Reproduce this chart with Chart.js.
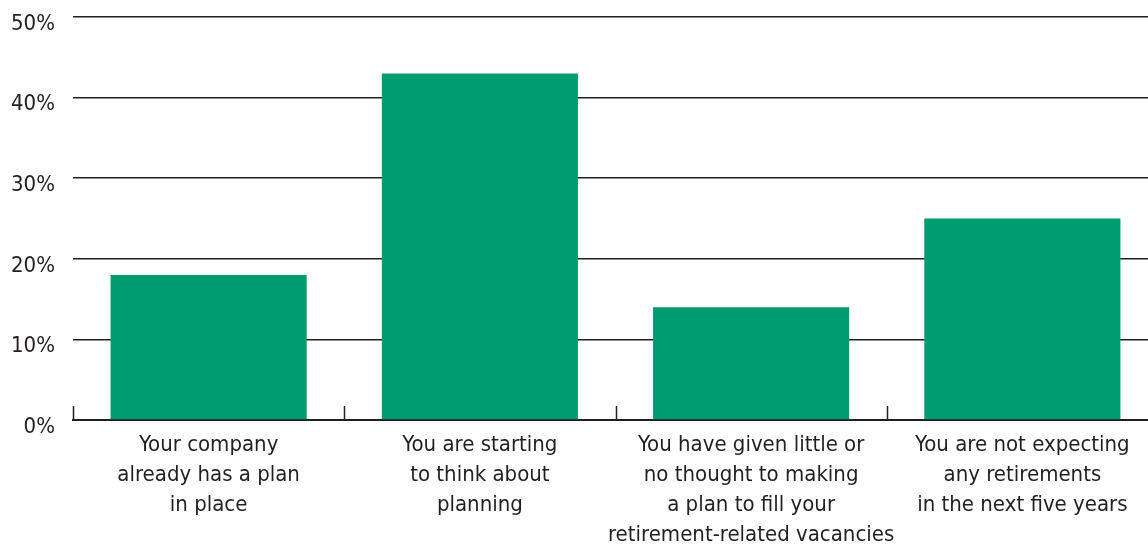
<!DOCTYPE html>
<html>
<head>
<meta charset="utf-8">
<script src="https://cdn.jsdelivr.net/npm/chart.js@4/dist/chart.umd.min.js"></script>
<style>
  html, body { margin: 0; padding: 0; background: #fff; overflow: hidden; }
  #wrap { width: 1158px; height: 548px; }
</style>
</head>
<body>
<div id="wrap"><canvas id="grafica"></canvas></div>
<script>
const categorias = [
    ["Your company", "already has a plan", "in place"],
    ["You are starting", "to think about", "planning"],
    ["You have given little or", "no thought to making", "a plan to fill your", "retirement-related vacancies"],
    ["You are not expecting", "any retirements", "in the next five years"]
];
const valores = [18, 43, 14, 25];
const ticksY = [0, 10, 20, 30, 40, 50];

const fuente = "'DejaVu Sans Condensed', 'Liberation Sans', sans-serif";
const colorTexto = "#231f20";

// short marks between categories, rising from the baseline
const marcasCategoria = {
    id: "marcasCategoria",
    afterDraw(chart) {
        const x = chart.scales.x;
        const ctx = chart.ctx;
        const base = chart.chartArea.bottom;
        ctx.save();
        ctx.strokeStyle = "#231f20";
        ctx.lineWidth = 1.5;
        for (let i = 0; i <= categorias.length; i++) {
            const px = Math.round(x.getPixelForValue(i - 0.5)) + 0.5;
            ctx.beginPath();
            ctx.moveTo(px, base);
            ctx.lineTo(px, base - 14);
            ctx.stroke();
        }
        ctx.restore();
    }
};

new Chart(document.getElementById("grafica"), {
    type: "bar",
    data: {
        labels: categorias,
        datasets: [{
            data: valores,
            backgroundColor: "#009b6f",
            categoryPercentage: 1,
            barPercentage: 0.723
        }]
    },
    options: {
        responsive: true,
        maintainAspectRatio: false,
        animation: false,
        layout: { padding: { top: 17, right: 0, left: 0, bottom: 0 } },
        plugins: {
            legend: { display: false },
            tooltip: { enabled: false }
        },
        scales: {
            x: {
                grid: { display: false, drawTicks: false },
                border: { display: true, color: "#231f20", width: 2 },
                ticks: {
                    color: colorTexto,
                    font: { family: fuente, size: 22, lineHeight: "30px" },
                    padding: 10,
                    maxRotation: 0,
                    autoSkip: false
                },
                afterFit(scale) {
                    scale.height = 128;
                    scale.paddingLeft = 0;
                    scale.paddingRight = 0;
                }
            },
            y: {
                min: 0,
                max: 50,
                afterBuildTicks(scale) {
                    scale.ticks = ticksY.map(v => ({ value: v }));
                },
                grid: { color: "#231f20", lineWidth: 1.5, drawTicks: false },
                border: { display: false },
                ticks: {
                    color: colorTexto,
                    font: { family: fuente, size: 22 },
                    padding: 18,
                    labelOffset: 7,
                    callback: v => v + "%"
                },
                afterFit(scale) {
                    scale.width = 73;
                    scale.paddingTop = 0;
                    scale.paddingBottom = 0;
                }
            }
        }
    },
    plugins: [marcasCategoria]
});
</script>
</body>
</html>
